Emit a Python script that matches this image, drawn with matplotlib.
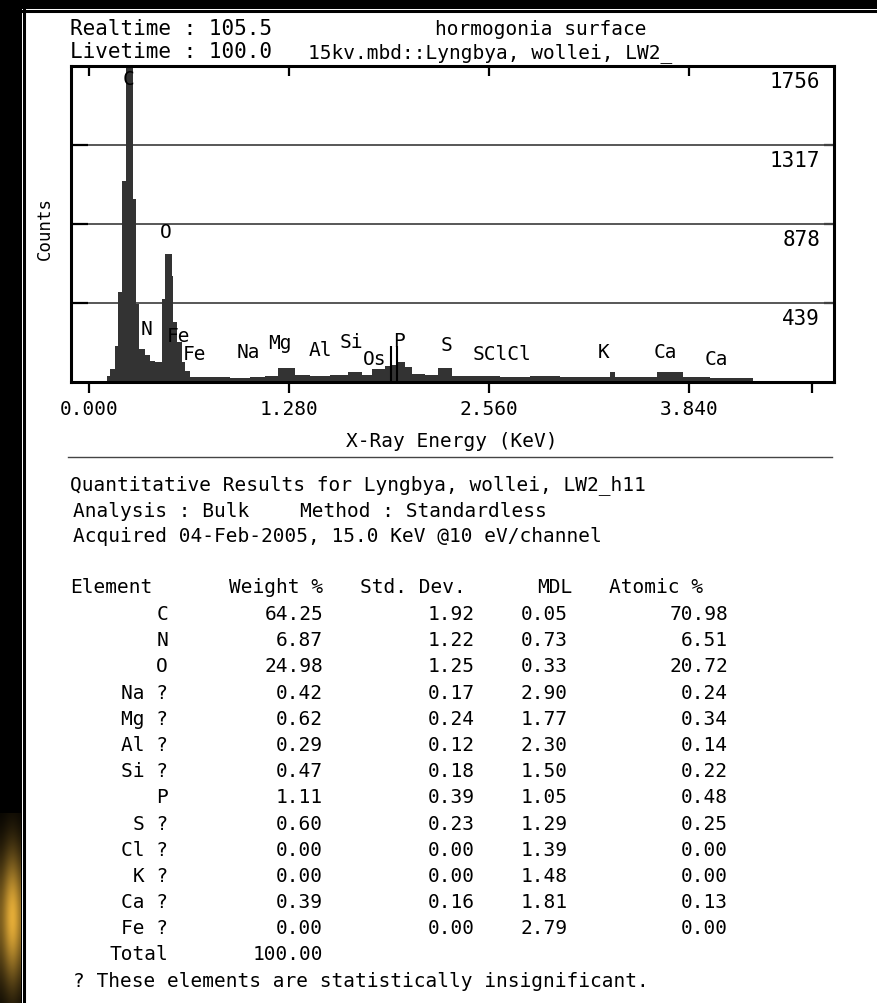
import matplotlib
matplotlib.use('Agg')
import numpy as np
import matplotlib.pyplot as plt
from matplotlib.patches import Rectangle
from matplotlib.lines import Line2D

W, H = 877, 1004
plt.rcParams['font.family'] = 'DejaVu Sans Mono'

# spectrum: bin edges (keV) and counts per bin
edges = [0.115, 0.134, 0.166, 0.186, 0.211, 0.237, 0.282, 0.301, 0.320, 0.358,
         0.390, 0.422, 0.467, 0.486, 0.531, 0.538, 0.563, 0.595, 0.614, 0.646,
         0.710, 0.806, 0.902, 1.030, 1.126, 1.210, 1.318, 1.414, 1.542, 1.658,
         1.747, 1.811, 1.894, 1.939, 1.978, 2.022, 2.067, 2.150, 2.234, 2.323,
         2.470, 2.630, 2.822, 3.014, 3.206, 3.334, 3.366, 3.526, 3.635, 3.802,
         3.974, 4.250]
counts = [35, 72, 200, 500, 1118, 2500, 1017, 433, 183, 150,
          118, 110, 462, 711, 590, 333, 222, 111, 60, 30,
          26, 30, 24, 28, 33, 78, 40, 33, 38, 55,
          40, 72, 90, 95, 113, 83, 44, 40, 78, 35,
          33, 30, 33, 28, 30, 55, 30, 28, 55, 30,
          24]

# KLM marker lines at P
marker_kev = [1.93, 1.97]
marker_top = 200

# element labels on the spectrum (text, keV, counts)
peak_names = ['C', 'O', 'N', 'Fe', 'Fe', 'Na', 'Mg', 'Al', 'Si', 'Os', 'P',
              'S', 'SClCl', 'K', 'Ca', 'Ca']
peak_kev = [0.250, 0.493, 0.365, 0.570, 0.678, 1.018, 1.222, 1.478, 1.680,
            1.830, 1.984, 2.291, 2.643, 3.296, 3.686, 4.013]
peak_cts = [1684, 834, 295, 261, 156, 172, 222, 183, 225, 130, 233, 206,
            156, 172, 167, 128]

count_marks = [1756, 1317, 878, 439]
x_ticks = [0.0, 1.28, 2.56, 3.84]
x_labels = ['0.000', '1.280', '2.560', '3.840']

# quantitative results table
elements = ['C', 'N', 'O', 'Na ?', 'Mg ?', 'Al ?', 'Si ?', 'P', 'S ?', 'Cl ?',
            'K ?', 'Ca ?', 'Fe ?']
weight = [64.25, 6.87, 24.98, 0.42, 0.62, 0.29, 0.47, 1.11, 0.60, 0.00, 0.00,
          0.39, 0.00]
std_dev = [1.92, 1.22, 1.25, 0.17, 0.24, 0.12, 0.18, 0.39, 0.23, 0.00, 0.00,
           0.16, 0.00]
mdl = [0.05, 0.73, 0.33, 2.90, 1.77, 2.30, 1.50, 1.05, 1.29, 1.39, 1.48,
       1.81, 2.79]
atomic = [70.98, 6.51, 20.72, 0.24, 0.34, 0.14, 0.22, 0.48, 0.25, 0.00, 0.00,
          0.13, 0.00]
total_weight = 100.00


def fx(x):
    return x / W


def fy(y):
    return 1 - y / H


def ftext(x, y, s, ha='left', size=14, **kw):
    fig.text(fx(x), fy(y), s, ha=ha, va='baseline', fontsize=size, color='black', **kw)


fig = plt.figure(figsize=(W / 100, H / 100), dpi=100)
fig.patch.set_facecolor('black')

# white sheet with its black frame
fig.patches.append(Rectangle((fx(22), 0), 1 - fx(22), fy(10), transform=fig.transFigure,
                             facecolor='white', edgecolor='none', zorder=-5))
fig.add_artist(Line2D([fx(23.5), fx(23.5)], [0, fy(11)], color='black', lw=2.2))
fig.add_artist(Line2D([fx(23), 1], [fy(11.5), fy(11.5)], color='black', lw=2.2))

# soft yellowish glow in the lower-left margin
glow_ax = fig.add_axes([0, 0, fx(21), 190 / H])
gy, gx = np.mgrid[0:1:80j, 0:1:12j]
glow = np.exp(-((gy - 0.45) / 0.35) ** 2) * (0.45 + 0.55 * np.exp(-((gx - 0.6) / 0.45) ** 2))
glow_rgb = np.dstack([glow * 0.9, glow * 0.68, glow * 0.22])
glow_ax.imshow(glow_rgb, aspect='auto', origin='lower', interpolation='bicubic')
glow_ax.axis('off')

# spectrum panel
ax = fig.add_axes([fx(71), fy(383), (834 - 71) / W, (383 - 67) / H])
ax.set_facecolor('white')
ax.stairs(counts, edges, fill=True, color='#333333', zorder=2)
ax.vlines(marker_kev, 0, marker_top, color='black', lw=1.5, zorder=3)
ax.set_xlim(-0.115, 4.768)
ax.set_ylim(0, 1756)
ax.set_axisbelow(True)
ax.set_yticks(count_marks[1:])
ax.yaxis.grid(True, color='#4a4a4a', lw=1.3)
ax.tick_params(axis='y', direction='in', length=12, width=1.6, labelleft=False)
ax.set_xticks(x_ticks + [4.63], x_labels + [''])
ax.tick_params(axis='x', direction='out', length=8, width=1.6, pad=4, labelsize=14)
for sp in ax.spines.values():
    sp.set_linewidth(2.2)

top = ax.secondary_xaxis('top')
top.set_xticks(x_ticks, [''] * len(x_ticks))
top.tick_params(direction='in', length=7, width=1.6)
right = ax.secondary_yaxis('right')
right.set_yticks(count_marks[1:], [''] * 3)
right.tick_params(direction='in', length=7, width=1.6)

for v in count_marks:
    ax.annotate(str(v), (1, v), xycoords=('axes fraction', 'data'),
                xytext=(-10, -15), textcoords='offset points',
                ha='right', va='baseline', fontsize=15)

for name, e, c in zip(peak_names, peak_kev, peak_cts):
    ax.text(e, c, name, ha='center', va='center', fontsize=14, zorder=4)

fig.text(fx(45), fy(228), 'Counts', rotation=90, ha='center', va='center', fontsize=12.5)
ftext(452, 447, 'X-Ray Energy (KeV)', ha='center')
fig.add_artist(Line2D([fx(68), fx(832)], [fy(458), fy(458)], color='#444444', lw=1.0))

# header
ftext(70, 35, 'Realtime : 105.5', size=15)
ftext(70, 58, 'Livetime : 100.0', size=15)
ftext(435, 35, 'hormogonia surface', size=14)
ftext(308, 58, '15kv.mbd::Lyngbya, wollei, LW2_', size=14)

# results
ftext(70, 490, 'Quantitative Results for Lyngbya, wollei, LW2_h11')
ftext(73, 517, 'Analysis : Bulk')
ftext(300, 517, 'Method : Standardless')
ftext(73, 542, 'Acquired 04-Feb-2005, 15.0 KeV @10 eV/channel')

ftext(70, 593, 'Element')
ftext(323, 593, 'Weight %', ha='right')
ftext(360, 593, 'Std. Dev.')
ftext(537, 593, 'MDL')
ftext(609, 593, 'Atomic %')

row_y = 620
for i, el in enumerate(elements):
    y = row_y + 26.2 * i
    ftext(168, y, el, ha='right')
    ftext(323, y, f'{weight[i]:.2f}', ha='right')
    ftext(475, y, f'{std_dev[i]:.2f}', ha='right')
    ftext(568, y, f'{mdl[i]:.2f}', ha='right')
    ftext(728, y, f'{atomic[i]:.2f}', ha='right')
ftext(168, 960, 'Total', ha='right')
ftext(323, 960, f'{total_weight:.2f}', ha='right')
ftext(73, 987, '? These elements are statistically insignificant.')

fig.savefig('out.png', dpi=100, facecolor=fig.get_facecolor())
